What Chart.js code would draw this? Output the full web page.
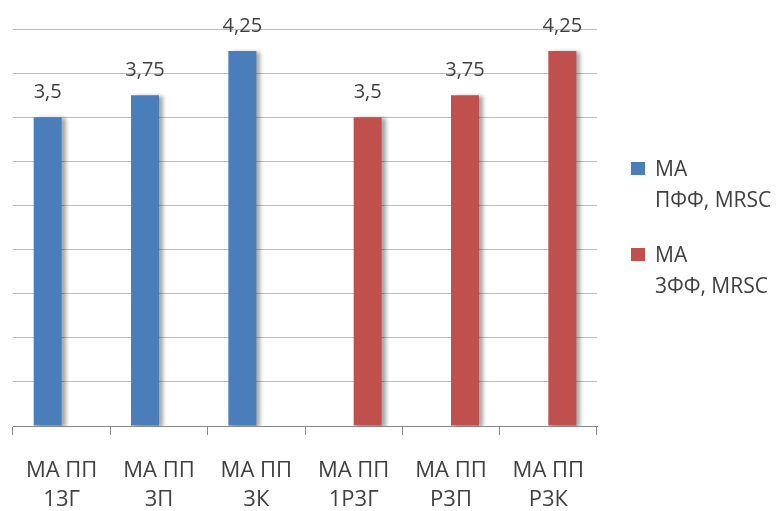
<!DOCTYPE html>
<html>
<head>
<meta charset="utf-8">
<script src="https://cdn.jsdelivr.net/npm/chart.js@4/dist/chart.umd.min.js"></script>
<style>
  body { margin: 0; background: #fff; }
  #wrap { position: relative; width: 783px; height: 511px; }
  .leg { position: absolute; left: 631px; font-family: "Open Sans", sans-serif; font-size: 21px; color: #404040; line-height: 31px; }
  .leg span.sq { position: absolute; left: 0; top: 9px; width: 14px; height: 13px; }
  .leg div { padding-left: 24px; white-space: nowrap; }
</style>
</head>
<body>
<div id="wrap">
  <canvas id="grafico" width="783" height="511"></canvas>
  <div class="leg" id="leg1" style="top:153px"><span class="sq" style="background:#4a7ebb"></span><div>МА</div><div>ПФФ, MRSC</div></div>
  <div class="leg" id="leg2" style="top:239px"><span class="sq" style="background:#c0504d"></span><div>МА</div><div>3ФФ, MRSC</div></div>
</div>
<script>
// categorias (dos lineas cada una)
const categorias = [
    ['МА ПП', '13Г'],
    ['МА ПП', '3П'],
    ['МА ПП', '3К'],
    ['МА ПП', '1Р3Г'],
    ['МА ПП', 'Р3П'],
    ['МА ПП', 'Р3К']
];
const serieAzul = [3.5, 3.75, 4.25, null, null, null];
const serieRoja = [null, null, null, 3.5, 3.75, 4.25];
const nombresSeries = ['МА ПФФ, MRSC', 'МА 3ФФ, MRSC'];

// etiquetas sobre las barras + sombra
const etiquetasPlugin = {
    id: 'etiquetas',
    beforeDatasetsDraw(chart) {
        const ctx = chart.ctx;
        ctx.save();
        ctx.shadowColor = 'rgba(0,0,0,0.35)';
        ctx.shadowOffsetX = 4;
        ctx.shadowOffsetY = 1;
        ctx.shadowBlur = 4;
    },
    afterDatasetsDraw(chart) {
        const ctx = chart.ctx;
        ctx.restore();
        ctx.save();
        ctx.font = '20px "Open Sans"';
        ctx.fillStyle = '#404040';
        ctx.textAlign = 'center';
        ctx.textBaseline = 'alphabetic';
        chart.data.datasets.forEach((ds, i) => {
            const meta = chart.getDatasetMeta(i);
            meta.data.forEach((bar, j) => {
                const v = ds.data[j];
                if (v === null) return;
                ctx.fillText(String(v).replace('.', ','), bar.x, bar.y - 19);
            });
        });
        ctx.restore();
    }
};

const ctx = document.getElementById('grafico').getContext('2d');
new Chart(ctx, {
    type: 'bar',
    data: {
        labels: categorias,
        datasets: [
            {
                label: nombresSeries[0],
                data: serieAzul,
                backgroundColor: '#4a7ebb',
                categoryPercentage: 0.575,
                barPercentage: 1
            },
            {
                label: nombresSeries[1],
                data: serieRoja,
                backgroundColor: '#c0504d',
                categoryPercentage: 0.575,
                barPercentage: 1
            }
        ]
    },
    options: {
        responsive: false,
        animation: false,
        layout: { padding: { left: 13, right: 186, top: 29, bottom: 0 } },
        plugins: {
            legend: { display: false },
            tooltip: { enabled: false }
        },
        scales: {
            x: {
                offset: true,
                afterFit: (scale) => { scale.height = 85; },
                grid: { display: true, drawOnChartArea: false, tickLength: 9, color: '#868686', offset: true },
                border: { color: '#868686' },
                ticks: {
                    color: '#404040',
                    padding: 21,
                    font: { family: 'Open Sans', size: 22, lineHeight: '29px' },
                    maxRotation: 0
                }
            },
            y: {
                min: 0,
                max: 4.5,
                ticks: { stepSize: 0.5, display: false },
                grid: { color: '#b4c0d8', drawTicks: false },
                border: { display: false }
            }
        }
    },
    plugins: [etiquetasPlugin]
});
</script>
</body>
</html>
